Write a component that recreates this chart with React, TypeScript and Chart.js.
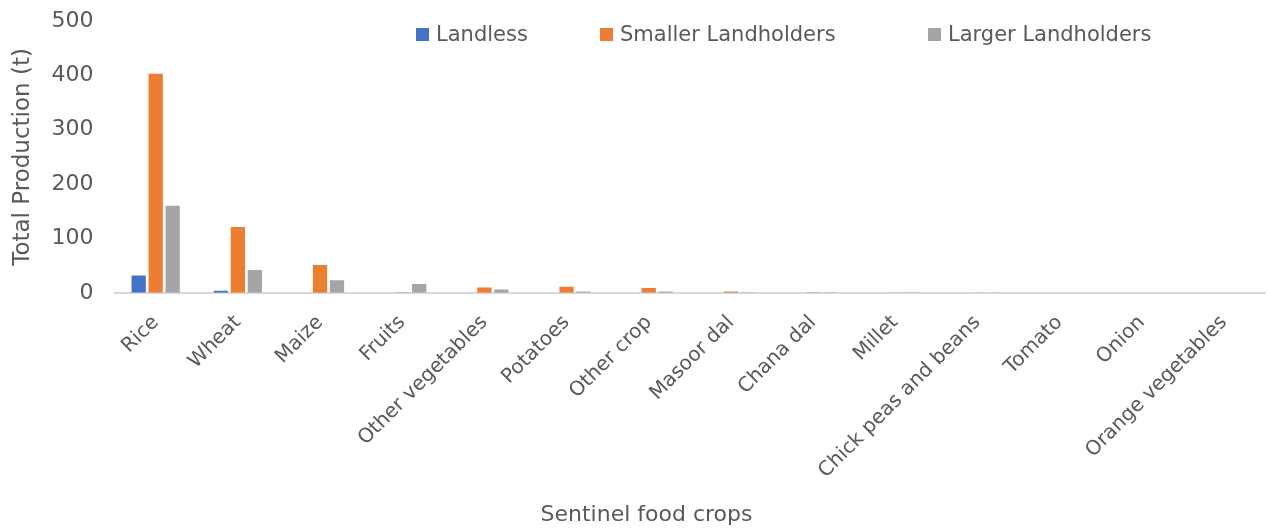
import React, { useEffect, useRef } from "react";
import { Chart, registerables } from "chart.js";

Chart.register(...registerables);

const categories = [
  "Rice",
  "Wheat",
  "Maize",
  "Fruits",
  "Other vegetables",
  "Potatoes",
  "Other crop",
  "Masoor dal",
  "Chana dal",
  "Millet",
  "Chick peas and beans",
  "Tomato",
  "Onion",
  "Orange vegetables",
];

const landless = [32, 4, 0, 0, 0, 0, 0, 0, 0, 0, 0, 0, 0, 0];
const smallerLandholders = [403, 121, 51, 1, 10, 11, 9, 2.5, 1, 0.5, 0.4, 0, 0, 0];
const largerLandholders = [160, 42, 23, 16, 6, 2.5, 2.5, 1, 1, 1, 0.6, 0, 0, 0];

const seriesNames = ["Landless", "Smaller Landholders", "Larger Landholders"];
const seriesColors = ["#4472C4", "#ED7D31", "#A5A5A5"];
const yTicks = [0, 100, 200, 300, 400, 500];

const FONT = "'DejaVu Sans', sans-serif";
const TEXT = "#595959";
const legendStarts = [416, 600, 928];

const customLegend = {
  id: "customLegend",
  afterDraw(chart: any) {
    const ctx = chart.ctx;
    ctx.save();
    ctx.font = `21px ${FONT}`;
    ctx.textBaseline = "middle";
    const y = 35;
    chart.data.datasets.forEach((ds: any, i: number) => {
      const x = legendStarts[i];
      ctx.fillStyle = ds.backgroundColor;
      ctx.fillRect(x, y - 7, 13, 13);
      ctx.fillStyle = TEXT;
      ctx.textAlign = "left";
      ctx.fillText(ds.label, x + 20, y + 1);
    });
    ctx.font = `22px ${FONT}`;
    ctx.textAlign = "center";
    ctx.textBaseline = "middle";
    ctx.fillStyle = TEXT;
    ctx.fillText("Sentinel food crops", chart.width / 2 + 12, chart.height - 14);
    ctx.restore();
  },
};

export default function App() {
  const ref = useRef<HTMLCanvasElement>(null);
  useEffect(() => {
    document.body.style.margin = "0";
    const datasets = [landless, smallerLandholders, largerLandholders].map((d, i) => ({
      label: seriesNames[i],
      data: d,
      backgroundColor: seriesColors[i],
      borderWidth: 0,
      categoryPercentage: 0.62,
      barPercentage: 0.84,
    }));
    const chart = new Chart(ref.current!, {
      type: "bar",
      data: { labels: categories, datasets },
      options: {
        animation: false,
        responsive: false,
        maintainAspectRatio: false,
        layout: { padding: { top: 21, right: 4, bottom: 28, left: 9 } },
        plugins: {
          legend: { display: false },
          tooltip: { enabled: false },
        },
        scales: {
          x: {
            grid: { display: false, drawTicks: false },
            border: { color: "#D9D9D9", width: 2 },
            ticks: {
              color: TEXT,
              font: { family: FONT, size: 20 },
              maxRotation: 45,
              minRotation: 45,
              autoSkip: false,
              padding: 18,
            },
          },
          y: {
            min: 0,
            max: 500,
            afterBuildTicks: (axis: any) => {
              axis.ticks = yTicks.map((v) => ({ value: v }));
            },
            grid: { display: false, drawTicks: true, tickLength: 21 },
            border: { display: false },
            ticks: {
              color: TEXT,
              font: { family: FONT, size: 22 },
              padding: 0,
            },
            title: {
              display: true,
              text: "Total Production (t)",
              color: TEXT,
              font: { family: FONT, size: 23 },
              padding: { top: 0, bottom: 15 },
            },
          },
        },
      },
      plugins: [customLegend],
    });
    return () => chart.destroy();
  }, []);
  return <canvas ref={ref} width={1269} height={529} style={{ display: "block" }} />;
}
